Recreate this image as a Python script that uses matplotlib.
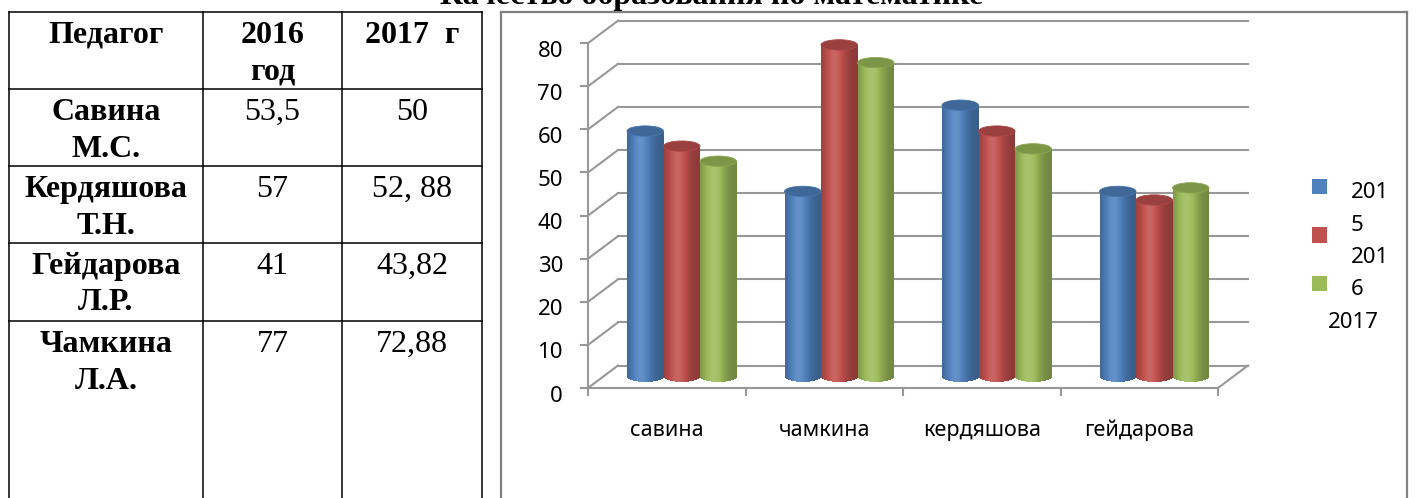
import numpy as np
import matplotlib
matplotlib.use("Agg")
import matplotlib.pyplot as plt
from matplotlib.lines import Line2D
from matplotlib.patches import Rectangle, Ellipse
from matplotlib.transforms import offset_copy

# ---- data ----
title = "Качество образования по математике"
table_header = ["Педагог", "2016\nгод", "2017  г"]
teachers = ["Савина\nМ.С.", "Кердяшова\nТ.Н.", "Гейдарова\nЛ.Р.", "Чамкина\nЛ.А."]
tab_2016 = ["53,5", "57", "41", "77"]
tab_2017 = ["50", "52, 88", "43,82", "72,88"]

categories = ["савина", "чамкина", "кердяшова", "гейдарова"]
years = ["2015", "2016", "2017"]
v2015 = [57, 43, 63, 43]
v2016 = [53.5, 77, 57, 41]
v2017 = [50, 72.88, 52.88, 43.82]
series = [v2015, v2016, v2017]
colors = ["#4F81BD", "#C0504D", "#9BBB59"]
yticks = list(range(0, 90, 10))

W, H = 1419, 498
fig = plt.figure(figsize=(W / 100, H / 100), dpi=100)


def fx(p):
    return p / W


def fy(p):
    return 1 - p / H


def fline(x0, y0, x1, y1, color="black", lw=1.1):
    fig.add_artist(Line2D([fx(x0), fx(x1)], [fy(y0), fy(y1)], color=color, lw=lw,
                          transform=fig.transFigure))


# ---- table on the left ----
col_x = [9, 203, 342, 482]
row_y = [12, 89, 166, 243, 321, 498]
for x in col_x:
    fline(x, row_y[0], x, H + 5)
for y in row_y[:-1]:
    fline(col_x[0], y, col_x[-1], y)

serif = "Liberation Serif"
centers = [(col_x[i] + col_x[i + 1]) / 2 for i in range(3)]
lh = 36.5


def cell_text(txt, cx, base, bold):
    for k, line in enumerate(txt.split("\n")):
        fig.text(fx(cx), fy(base + k * lh), line, ha="center", va="baseline",
                 fontsize=23, family=serif, fontweight="bold" if bold else "normal")


for i, h in enumerate(table_header):
    cell_text(h, centers[i], 43, True)
for r in range(4):
    base = row_y[r + 1] + 31
    cell_text(teachers[r], centers[0], base, True)
    cell_text(tab_2016[r], centers[1], base, False)
    cell_text(tab_2017[r], centers[2], base, False)

# title (cut at the top like the original)
fig.text(fx(712), fy(4), title, ha="center", va="baseline", fontsize=23,
         family=serif, fontweight="bold")

# ---- chart frame ----
fline(501, 12, 501, H + 5, color="#808080", lw=1.6)
fline(501, 12, 1407, 12, color="#808080", lw=1.6)
fline(1407, 12, 1407, H + 5, color="#808080", lw=1.6)

# ---- 3d-looking column chart ----
PXX, PXY = 157.5, 4.31          # pixels per data unit
x0, x1, y0, y1 = -0.1, 4.3, -3, 86
left_px, bottom_px = 588 + x0 * PXX, 388 - y0 * PXY
ax = fig.add_axes([fx(left_px), fy(bottom_px), (x1 - x0) * PXX / W, (y1 - y0) * PXY / H])
ax.set_xlim(x0, x1)
ax.set_ylim(y0, y1)
ax.axis("off")

n = len(categories)
dx, dy = 30 / PXX, 22.5 / PXY
gcol = "#989898"
glw = 1.5

# walls and gridlines
for v in yticks:
    ax.plot([0, dx], [v, v + dy], color=gcol, lw=glw, clip_on=False, zorder=1)
    ax.plot([dx, n + dx], [v + dy, v + dy], color=gcol, lw=glw, clip_on=False, zorder=1)
    ax.plot([0, -7 / PXX], [v, v], color=gcol, lw=glw, clip_on=False, zorder=1)
ax.plot([0, 0], [0, yticks[-1]], color=gcol, lw=glw, clip_on=False, zorder=1)
ax.plot([0, n], [0, 0], color=gcol, lw=glw, clip_on=False, zorder=1)
ax.plot([n, n + dx], [0, dy], color=gcol, lw=glw, clip_on=False, zorder=1)
for i in range(n + 1):
    ax.plot([i, i], [0, -7 / PXY], color=gcol, lw=glw, clip_on=False, zorder=1)

ylab_tr = offset_copy(ax.transData, fig=fig, x=-25, y=-8, units="dots")
for v in yticks:
    ax.text(0, v, str(v), transform=ylab_tr, ha="right", va="center",
            fontsize=16, family="Noto Sans")
xlab_tr = offset_copy(ax.transData, fig=fig, x=0, y=-42, units="dots")
for i, c in enumerate(categories):
    ax.text(i + 0.5, 0, c, transform=xlab_tr, ha="center", va="center",
            fontsize=15.5, family="Noto Sans")

# cylinders
bw = 36.5 / PXX
eh = 5.2 / PXY
mx, my = dx / 2, dy / 2
nstrip = 36


def shade(base, f):
    base = np.array(matplotlib.colors.to_rgb(base))
    if f <= 1:
        return base * f
    return base + (1 - base) * (f - 1) * 1.2


for i in range(n):
    for j, vals in enumerate(series):
        L = i + 0.5 + mx - 1.5 * bw + j * bw
        c = L + bw / 2
        b = my
        t = vals[i] + my
        z = 3 + j
        edges = np.linspace(L, L + bw, nstrip + 1)
        for k in range(nstrip):
            xm = (edges[k] + edges[k + 1]) / 2
            tt = (xm - L) / bw
            f = 0.72 + 0.38 * np.exp(-((tt - 0.38) / 0.32) ** 2)
            low = b - eh * np.sqrt(max(0.0, 1 - ((xm - c) / (bw / 2)) ** 2))
            ax.add_patch(Rectangle((edges[k], low), edges[k + 1] - edges[k] + 0.002, t - low,
                                   facecolor=shade(colors[j], f), edgecolor="none",
                                   clip_on=False, zorder=z))
        ax.add_patch(Ellipse((c, t), bw, 2 * eh, facecolor=shade(colors[j], 0.8),
                             edgecolor=shade(colors[j], 0.9), lw=0.6, clip_on=False, zorder=z))

# legend
mk_y = [187, 235, 284]
for j, col in enumerate(colors):
    fig.add_artist(Rectangle((fx(1312), fy(mk_y[j] + 7.5)), 15 / W, 15 / H,
                             facecolor=col, edgecolor="none", transform=fig.transFigure))
leg_lines = []
for k, yr in enumerate(years):
    if k < len(years) - 1:
        leg_lines += [(yr[:3], 1351), (yr[3:], 1351)]
    else:
        leg_lines += [(yr, 1328)]
for k, (txt, lx) in enumerate(leg_lines):
    fig.text(fx(lx), fy(193 + k * 32.3), txt, ha="left", va="center",
             fontsize=16, family="Noto Sans")

plt.savefig("out.png", dpi=100)
